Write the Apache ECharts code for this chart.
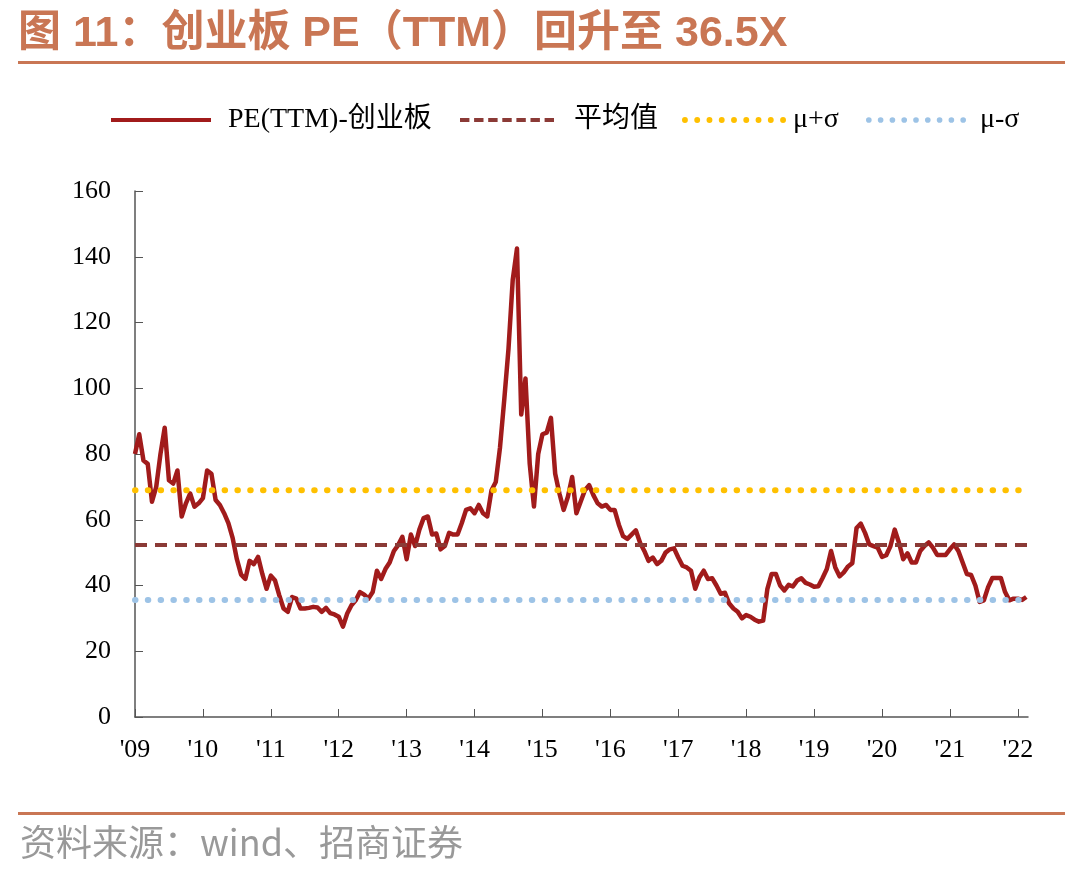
<!DOCTYPE html>
<html><head><meta charset="utf-8">
<script src="https://cdn.jsdelivr.net/npm/echarts@6/dist/echarts.min.js"></script>
<style>html,body{margin:0;padding:0;background:#fff}#c{width:1080px;height:869px}</style>
</head><body><div id="c"></div>
<script>
const yearLabels = ["'09","'10","'11","'12","'13","'14","'15","'16","'17","'18","'19","'20","'21","'22"];
const yearTicks = [0,1,2,3,4,5,6,7,8,9,10,11,12,13];
const pointsPerYear = 16;
const xMax = 13.15;
const peValues = [
80,86,78,77,65.5,70,80,88,72,71,
75,61,65,68,64,65,66.6,75,74,66,
64.5,62,59,54.5,48,43.3,42,47.5,46.5,48.7,
43.5,39,43,41.5,37,33,32,36.5,36,33,
33,33.2,33.5,33.3,32,33.2,31.6,31.2,30.5,27.5,
31.5,34,35.5,38,37.2,36,38,44.5,42,45,
47,50.5,52.3,54.8,48,55.5,52,57,60.5,61,
55.5,55.8,51,52,56,55.5,55.5,59,63,63.5,
62,64.5,62,61,69,71.5,82,96.5,112,133,
142.5,92,103,77,64,80,86,86.5,91,74,
68,63,67,73,62,65.5,69,70.5,67.5,65,
64,64.5,63,63,58.5,55,54.2,55.5,56.8,53,
50.5,47.5,48.5,46.5,47.5,50,51,51.3,48.5,46,
45.5,44.5,39,42.5,44.5,42,42.2,40,37.5,37.8,
34.5,33,32,30,31,30.5,29.6,29,29.3,39,
43.5,43.5,40,38.5,40.2,39.7,41.5,42.2,40.8,40.3,
39.6,39.8,42.3,45,50.5,45.5,42.8,44,45.8,46.8,
57.5,58.8,56,52.5,52,51.5,48.7,49.2,52,57,
53,48,49.8,47,47,50.5,52,53.1,51.5,49.3,
49.3,49.3,51,52.5,50.5,47,43.5,43.2,40,35,
35.5,39.5,42.3,42.3,42.3,38,35.5,36,36,35.6,
36.5
];
const meanPE = 52.3;
const upperPE = 69.0;
const lowerPE = 35.6;
const seriesNames = ['PE(TTM)-创业板','平均值','μ+σ','μ-σ'];

const peData = peValues.map((v, i) => [i / pointsPerYear, v]);
const flat = v => [[0, v], [xMax, v]];

// legend icon shapes
let dashPath = 'path://';
for (let k = 0; k < 7; k++) dashPath += 'M' + (k * 15) + ',0h10v4h-10z';
let dotPath = 'path://';
for (let k = 0; k < 9; k++) { const cx = 3 + k * 12.5; dotPath += 'M' + (cx - 3) + ',3a3,3 0 1,0 6,0a3,3 0 1,0 -6,0z'; }

const chart = echarts.init(document.getElementById('c'));
const serif = '"Liberation Serif","Times New Roman","Noto Sans CJK SC",serif';
const accent = '#C97654';
const legendText = pad => ({ fontFamily: serif, fontSize: 28, color: '#000', padding: [0, 0, 0, pad] });
chart.setOption({
  animation: false,
  backgroundColor: '#fff',
  graphic: [
    { type: 'text', x: 18, y: 34, style: { text: '图 11：创业板 PE（TTM）回升至 36.5X', font: 'bold 43px "Liberation Sans","Noto Sans CJK SC",sans-serif', fill: accent, verticalAlign: 'middle' } },
    { type: 'rect', shape: { x: 18, y: 61, width: 1047, height: 3 }, style: { fill: accent } },
    { type: 'rect', shape: { x: 18, y: 812, width: 1047, height: 3 }, style: { fill: accent } },
    { type: 'text', x: 20, y: 842, style: { text: '资料来源：wind、招商证券', font: '36px "Noto Sans CJK SC",sans-serif', fill: '#999', verticalAlign: 'middle' } }
  ],
  legend: [
    { left: 106, top: 101, itemWidth: 100, itemHeight: 4, icon: 'rect', textStyle: legendText(12), data: [seriesNames[0]] },
    { left: 455, top: 101, itemWidth: 94, itemHeight: 4, icon: dashPath, textStyle: legendText(15), data: [seriesNames[1]] },
    { left: 677, top: 101, itemWidth: 104, itemHeight: 6, icon: dotPath, textStyle: legendText(2), data: [seriesNames[2]] },
    { left: 861, top: 101, itemWidth: 100, itemHeight: 6, icon: dotPath, textStyle: legendText(9), data: [seriesNames[3]] }
  ],
  grid: { left: 135, right: 52, top: 191, bottom: 152 },
  xAxis: {
    type: 'value', min: 0, max: xMax, interval: 1,
    axisLine: { lineStyle: { color: '#555', width: 1.5 } },
    axisTick: { inside: true, length: 8, lineStyle: { color: '#555' }, customValues: yearTicks },
    axisLabel: { customValues: yearTicks, formatter: v => yearLabels[Math.round(v)] || '', fontFamily: serif, fontSize: 26, color: '#000', margin: 20 },
    splitLine: { show: false }
  },
  yAxis: {
    type: 'value', min: 0, max: 160, interval: 20,
    axisLine: { show: true, lineStyle: { color: '#555', width: 1.5 } },
    axisTick: { show: true, inside: true, length: 8, lineStyle: { color: '#555' } },
    axisLabel: { fontFamily: serif, fontSize: 26, color: '#000', margin: 24 },
    splitLine: { show: false }
  },
  series: [
    { name: seriesNames[0], type: 'line', data: peData, symbol: 'none', lineStyle: { color: '#A11B1B', width: 4.5, join: 'round' }, itemStyle: { color: '#A11B1B' } },
    { name: seriesNames[1], type: 'line', data: flat(meanPE), symbol: 'none', lineStyle: { color: '#8B3A36', width: 4, type: [12, 8] }, itemStyle: { color: '#8B3A36' } },
    { name: seriesNames[2], type: 'line', data: flat(upperPE), symbol: 'none', lineStyle: { color: '#FFC000', width: 6, type: [0.5, 12.3], cap: 'round' }, itemStyle: { color: '#FFC000' } },
    { name: seriesNames[3], type: 'line', data: flat(lowerPE), symbol: 'none', lineStyle: { color: '#9DC3E6', width: 6, type: [0.5, 12.3], cap: 'round' }, itemStyle: { color: '#9DC3E6' } }
  ]
});
</script></body></html>
